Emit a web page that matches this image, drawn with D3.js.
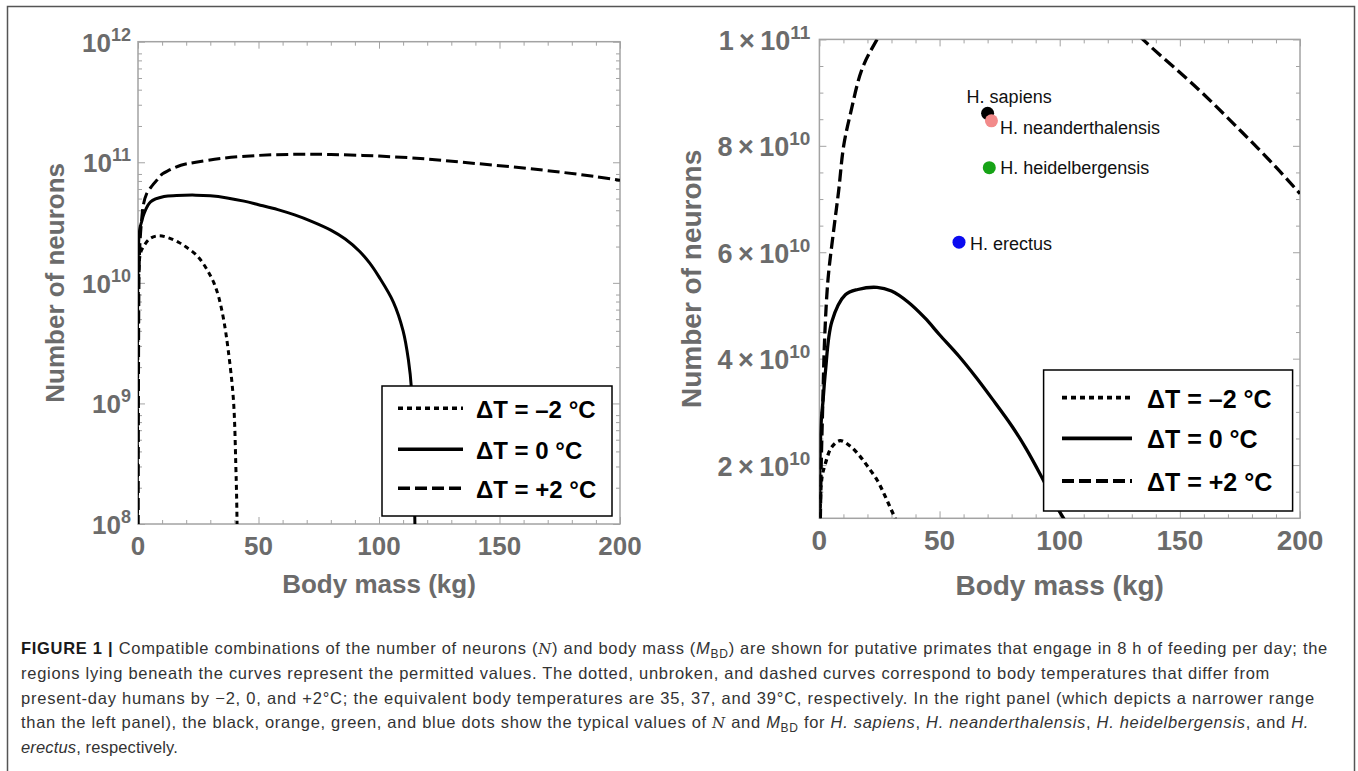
<!DOCTYPE html>
<html><head><meta charset="utf-8">
<script src="https://cdn.jsdelivr.net/npm/d3@7"></script>
<style>
html,body{margin:0;padding:0;background:#fff;}
svg{display:block;font-family:"Liberation Sans",Arial,sans-serif;}
</style></head><body>
<svg id="chart" width="1358" height="771"></svg>
<script>
// ---------------- data ----------------
const massDotted    = [0, 0.4, 1.1, 2.5, 5, 8.6, 13, 17, 20, 24, 27, 29.5, 31.5, 33.5, 35.5, 37.4, 39.6, 40.6, 41.1, 41.4];
const neuronsDotted = [0, 1.29e10, 1.78e10, 2.03e10, 2.33e10, 2.46e10, 2.35e10, 2.16e10, 1.98e10, 1.72e10, 1.45e10, 1.2e10, 1.0e10, 7.6e9, 5.0e9, 2.8e9, 1.07e9, 3e8, 1e8, 0];

const massSolid    = [0, 0.2, 0.8, 1.5, 2.5, 5.2, 10.8, 16, 24, 30, 37, 44, 50, 58, 65, 72, 80, 86, 92, 96, 100, 106, 110, 112.2, 113.5, 114.3, 114.9, 115.3];
const neuronsSolid = [0, 2.0e10, 2.85e10, 3.2e10, 3.75e10, 4.7e10, 5.2e10, 5.3e10, 5.34e10, 5.27e10, 5.06e10, 4.76e10, 4.45e10, 4.05e10, 3.66e10, 3.24e10, 2.74e10, 2.31e10, 1.82e10, 1.47e10, 1.12e10, 6.9e9, 4.0e9, 2.3e9, 1.3e9, 4.5e8, 1e8, 0];

const massDashed    = [0, 0.4, 0.7, 1.4, 2.2, 3.6, 5.9, 8, 10.1, 12.9, 17.8, 24, 35, 50, 65, 80, 100, 120, 134.6, 158, 176, 190, 200];
const neuronsDashed = [0, 1.0e10, 1.9e10, 3.15e10, 4.4e10, 5.5e10, 6.4e10, 7.15e10, 8.0e10, 8.6e10, 9.45e10, 1.0e11, 1.08e11, 1.14e11, 1.165e11, 1.16e11, 1.125e11, 1.065e11, 1.0e11, 9.05e10, 8.25e10, 7.6e10, 7.1e10];

const legendLabels = ["\u0394T = \u20132 \u00B0C", "\u0394T = 0 \u00B0C", "\u0394T = +2 \u00B0C"];

const speciesNames   = ["H. sapiens", "H. neanderthalensis", "H. heidelbergensis", "H. erectus"];
const speciesMass    = [70, 71.6, 70.7, 58.1];
const speciesNeurons = [8.61e10, 8.47e10, 7.59e10, 6.19e10];

const xTickValues   = [0, 50, 100, 150, 200];
const leftYTicks    = [1e8, 1e9, 1e10, 1e11, 1e12];
const leftYExp      = ["8", "9", "10", "11", "12"];
const rightYTicks   = [2e10, 4e10, 6e10, 8e10, 1e11];
const rightYMant    = ["2", "4", "6", "8", "1"];
const rightYExp     = ["10", "10", "10", "10", "11"];

const xTitle = "Body mass (kg)";
const yTitle = "Number of neurons";

// ---------------- styles ----------------
const speciesColors = ["#000000", "#f28a8a", "#16a316", "#0b0bf0"];
const labelOffsets = [[-21, -10], [8.5, 13.5], [11, 6], [11, 8]];
const dashes = ["5,4", null, "12,5"];
const grey = "#6b6b6b";
const frameCol = "#a3a3a3";

const series = [
  massDotted.map((m, i) => [m, neuronsDotted[i]]),
  massSolid.map((m, i) => [m, neuronsSolid[i]]),
  massDashed.map((m, i) => [m, neuronsDashed[i]])
];

const svg = d3.select("#chart");
svg.append("rect").attr("x", 7.5).attr("y", 6.5).attr("width", 1347).attr("height", 820)
  .attr("fill", "none").attr("stroke", "#555").attr("stroke-width", 1.5);

function panel(cfg) {
  const x = d3.scaleLinear().domain([0, 200]).range(cfg.xr);
  const y = cfg.log ? d3.scaleLog().domain([1e8, 1e12]).range(cfg.yr)
                    : d3.scaleLinear().domain([1e10, 1e11]).range(cfg.yr);
  const [x0, x1] = cfg.xr, [yb, yt] = cfg.yr;
  const g = svg.append("g");
  const clipId = "clip" + cfg.id;
  svg.append("defs").append("clipPath").attr("id", clipId)
    .append("rect").attr("x", x0).attr("y", yt).attr("width", x1 - x0).attr("height", yb - yt);

  // ticks (all four sides, inward)
  const minorX = d3.range(0, 201, 10).filter(v => v % 50 !== 0);
  let minorY;
  if (cfg.log) {
    minorY = [];
    [1e8, 1e9, 1e10, 1e11].forEach(d => { for (let k = 2; k <= 8; k++) minorY.push(d * k); });
  } else {
    minorY = d3.range(1.5e10, 1e11, 0.5e10).filter(v => rightYTicks.indexOf(Math.round(v / 1e9) * 1e9) < 0);
  }
  const tickStyle = sel => { sel.select(".domain").remove(); sel.selectAll("line").attr("stroke", frameCol).attr("stroke-width", 1); sel.selectAll("text").remove(); };
  const maj = 7, mnr = 4;
  g.append("g").attr("transform", `translate(0,${yb})`).call(d3.axisBottom(x).tickValues(xTickValues).tickSize(-maj)).call(tickStyle);
  g.append("g").attr("transform", `translate(0,${yb})`).call(d3.axisBottom(x).tickValues(minorX).tickSize(-mnr)).call(tickStyle);
  g.append("g").attr("transform", `translate(0,${yt})`).call(d3.axisTop(x).tickValues(xTickValues).tickSize(-maj)).call(tickStyle);
  g.append("g").attr("transform", `translate(0,${yt})`).call(d3.axisTop(x).tickValues(minorX).tickSize(-mnr)).call(tickStyle);
  const yMaj = cfg.log ? leftYTicks : rightYTicks;
  g.append("g").attr("transform", `translate(${x0},0)`).call(d3.axisLeft(y).tickValues(yMaj).tickSize(-maj)).call(tickStyle);
  g.append("g").attr("transform", `translate(${x0},0)`).call(d3.axisLeft(y).tickValues(minorY).tickSize(-mnr)).call(tickStyle);
  g.append("g").attr("transform", `translate(${x1},0)`).call(d3.axisRight(y).tickValues(yMaj).tickSize(-maj)).call(tickStyle);
  g.append("g").attr("transform", `translate(${x1},0)`).call(d3.axisRight(y).tickValues(minorY).tickSize(-mnr)).call(tickStyle);

  // frame
  g.append("rect").attr("x", x0).attr("y", yt).attr("width", x1 - x0).attr("height", yb - yt)
    .attr("fill", "none").attr("stroke", frameCol).attr("stroke-width", 1.5);

  // x tick labels
  g.selectAll(".xl").data(xTickValues).join("text")
    .attr("x", d => x(d)).attr("y", yb + cfg.xLabOff)
    .attr("text-anchor", "middle").attr("fill", grey).attr("font-weight", "bold")
    .attr("font-size", cfg.tickFont).text(d => d);

  // y tick labels
  const yl = g.selectAll(".yl").data(yMaj).join("text")
    .attr("x", x0 - cfg.yLabGap).attr("y", d => y(d) + cfg.yLabBase)
    .attr("text-anchor", "end").attr("fill", grey).attr("font-weight", "bold")
    .attr("font-size", cfg.yTickFont);
  yl.append("tspan").text((d, i) => cfg.log ? "10" : rightYMant[i] + "\u2009\u00D7\u200910");
  yl.append("tspan").attr("dy", cfg.supShift).attr("font-size", cfg.supFont)
    .text((d, i) => cfg.log ? leftYExp[i] : rightYExp[i]);

  // axis titles
  g.append("text").attr("x", (x0 + x1) / 2).attr("y", cfg.xTitleY).attr("text-anchor", "middle")
    .attr("fill", grey).attr("font-weight", "bold").attr("font-size", cfg.titleFont).text(xTitle);
  g.append("text").attr("transform", `translate(${cfg.yTitleX},${(yb + yt) / 2}) rotate(-90)`)
    .attr("text-anchor", "middle").attr("fill", grey).attr("font-weight", "bold")
    .attr("font-size", cfg.titleFont).text(yTitle);

  // curves
  const tiny = cfg.log ? 1e6 : 0;
  const line = d3.line().x(d => x(d[0])).y(d => y(d[1] > 0 ? d[1] : tiny)).curve(d3.curveCatmullRom.alpha(0.5));
  const cg = g.append("g").attr("clip-path", `url(#${clipId})`);
  series.forEach((s, i) => {
    cg.append("path").attr("d", line(s)).attr("fill", "none").attr("stroke", "#000")
      .attr("stroke-width", cfg.lw).attr("stroke-dasharray", dashes[i]);
  });

  // species points
  if (cfg.points) {
    const pts = g.append("g");
    speciesNames.forEach((nm, i) => {
      const cx = x(speciesMass[i]), cy = y(speciesNeurons[i]);
      pts.append("circle").attr("cx", cx).attr("cy", cy).attr("r", 6.5).attr("fill", speciesColors[i]);
    });
    speciesNames.forEach((nm, i) => {
      const cx = x(speciesMass[i]), cy = y(speciesNeurons[i]);
      pts.append("text").attr("x", cx + labelOffsets[i][0]).attr("y", cy + labelOffsets[i][1])
        .attr("font-size", 18).attr("fill", "#111").text(nm);
    });
  }

  // legend
  const L = cfg.legend;
  const lg = g.append("g");
  lg.append("rect").attr("x", L.x).attr("y", L.y).attr("width", L.w).attr("height", L.h)
    .attr("fill", "#fff").attr("stroke", "#000").attr("stroke-width", 1.5);
  legendLabels.forEach((lab, i) => {
    lg.append("line").attr("x1", L.lx0).attr("x2", L.lx1).attr("y1", L.ys[i]).attr("y2", L.ys[i])
      .attr("stroke", "#000").attr("stroke-width", cfg.lw + 0.5).attr("stroke-dasharray", dashes[i]);
    lg.append("text").attr("x", L.tx).attr("y", L.ys[i] + 10).attr("font-size", L.font)
      .attr("font-weight", "bold").attr("fill", "#000").text(lab);
  });
}

panel({
  id: "L", log: true, xr: [138, 620], yr: [524, 41.7],
  tickFont: 26, yTickFont: 26, supFont: 18, supShift: -11, yLabGap: 7, yLabBase: 10, xLabOff: 31,
  titleFont: 26, xTitleY: 593, yTitleX: 64, lw: 3, points: false,
  legend: { x: 382, y: 386, w: 230, h: 130, lx0: 398, lx1: 463, ys: [408.3, 449.3, 488.3], tx: 476, font: 24 }
});
panel({
  id: "R", log: false, xr: [819.4, 1300], yr: [518.3, 39.4],
  tickFont: 28, yTickFont: 27, supFont: 19, supShift: -11, yLabGap: 9, yLabBase: 10.5, xLabOff: 31.7,
  titleFont: 28, xTitleY: 595, yTitleX: 701, lw: 3.3, points: true,
  legend: { x: 1043.6, y: 370, w: 249, h: 141, lx0: 1062, lx1: 1132, ys: [397.7, 438.3, 481], tx: 1147, font: 25 }
});

// ---------------- caption ----------------
const captionLines = [
  [["FIGURE 1 | ", "b"], ["Compatible combinations of the number of neurons (", ""], ["N", "cal"], [") and body mass (", ""], ["M", "i"], ["BD", "sub"], [") are shown for putative primates that engage in 8 h of feeding per day; the", ""]],
  [["regions lying beneath the curves represent the permitted values. The dotted, unbroken, and dashed curves correspond to body temperatures that differ from", ""]],
  [["present-day humans by \u22122, 0, and +2\u00B0C; the equivalent body temperatures are 35, 37, and 39\u00B0C, respectively. In the right panel (which depicts a narrower range", ""]],
  [["than the left panel), the black, orange, green, and blue dots show the typical values of ", ""], ["N", "cal"], [" and ", ""], ["M", "i"], ["BD", "sub"], [" for ", ""], ["H. sapiens", "i"], [", ", ""], ["H. neanderthalensis", "i"], [", ", ""], ["H. heidelbergensis", "i"], [", and ", ""], ["H.", "i"]],
  [["erectus", "i"], [", respectively.", ""]]
];
const captionEnds = [1328, 1270, 1315, 1309, 178];
const captionBase = [654, 679, 703.5, 728, 753];
const capX = 21;
captionLines.forEach((segs, li) => {
  const t = svg.append("text").attr("x", capX).attr("y", captionBase[li])
    .attr("font-size", 16.5).attr("fill", "#333");
  let prevSub = false, n = 0;
  segs.forEach(([txt, st]) => {
    const ts = t.append("tspan").text(txt);
    n += txt.length;
    let dy = 0;
    if (prevSub) dy -= 4;
    if (st === "b") ts.attr("font-weight", "bold").attr("fill", "#1a1a1a");
    if (st === "i") ts.attr("font-style", "italic");
    if (st === "cal") ts.attr("font-style", "italic").attr("font-family", "DejaVu Serif").attr("font-size", 15);
    if (st === "sub") { ts.attr("font-size", 12); dy += 4; prevSub = true; } else prevSub = false;
    if (dy) ts.attr("dy", dy);
  });
  const w = t.node().getComputedTextLength();
  const ls = (captionEnds[li] - capX - w) / n;
  t.attr("letter-spacing", ls.toFixed(3));
});
</script>
</body></html>
